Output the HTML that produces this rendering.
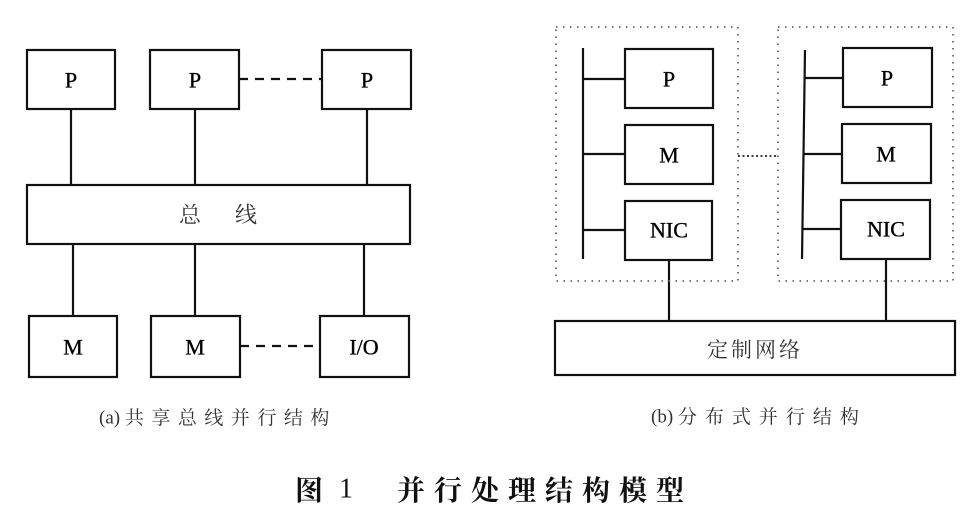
<!DOCTYPE html>
<html><head><meta charset="utf-8"><style>
html,body{margin:0;padding:0;background:#fff;}
svg{display:block;}
.l{font-family:"Liberation Serif","Noto Serif CJK SC",serif;fill:#000;stroke:#000;stroke-width:0.35;}
.c{font-family:"Liberation Serif","Noto Serif CJK SC",serif;fill:#333;}
</style></head><body>
<svg width="969" height="516" viewBox="0 0 969 516" xmlns="http://www.w3.org/2000/svg">
<g fill="none" stroke="#111" stroke-width="2.2">
<!-- left top P boxes -->
<rect x="27" y="50" width="88" height="59"/>
<rect x="150" y="50" width="89" height="59"/>
<rect x="322" y="50" width="89" height="59"/>
<line x1="239" y1="79" x2="322" y2="79" stroke-dasharray="9 7"/>
<line x1="71" y1="109" x2="71" y2="185"/>
<line x1="195" y1="109" x2="195" y2="185"/>
<line x1="367" y1="109" x2="367" y2="185"/>
<rect x="27" y="185" width="383" height="59"/>
<line x1="73" y1="244" x2="73" y2="316"/>
<line x1="195" y1="244" x2="195" y2="316"/>
<line x1="364" y1="244" x2="364" y2="316"/>
<rect x="29" y="316" width="88" height="61"/>
<rect x="151" y="316" width="89" height="61"/>
<rect x="320" y="316" width="89" height="61"/>
<line x1="240" y1="346" x2="320" y2="346" stroke-dasharray="9 7"/>

<!-- right -->
<line x1="583" y1="48" x2="583" y2="259"/>
<rect x="625" y="49" width="88" height="59"/>
<rect x="625" y="125" width="88" height="59"/>
<rect x="625" y="201" width="87" height="59"/>
<line x1="583" y1="79" x2="625" y2="79"/>
<line x1="583" y1="154" x2="625" y2="154"/>
<line x1="583" y1="230" x2="625" y2="230"/>

<line x1="805" y1="50" x2="802" y2="259"/>
<rect x="843" y="48" width="89" height="59"/>
<rect x="842" y="124" width="89" height="59"/>
<rect x="841" y="200" width="89" height="59"/>
<line x1="804" y1="78" x2="843" y2="78"/>
<line x1="803" y1="154" x2="842" y2="154"/>
<line x1="803" y1="229" x2="841" y2="229"/>

<line x1="669" y1="260" x2="669" y2="321"/>
<line x1="886" y1="259" x2="886" y2="321"/>
<rect x="555" y="321" width="400" height="54"/>
</g>
<g fill="none" stroke="#666" stroke-width="1.8" stroke-dasharray="1.5 5.5">
<rect x="556" y="27" width="182" height="254"/>
<rect x="778" y="27" width="175" height="254"/>
<line x1="738" y1="156" x2="778" y2="156" stroke="#222" stroke-dasharray="2 2.5"/>
</g>

<g class="l" font-size="22" text-anchor="middle" dominant-baseline="central">
<text x="71" y="80">P</text>
<text x="195" y="80">P</text>
<text x="367" y="80">P</text>
<text x="73" y="347">M</text>
<text x="195" y="347">M</text>
<text x="364" y="347">I/O</text>
<text x="669" y="79">P</text>
<text x="669" y="155">M</text>
<text x="669" y="230">NIC</text>
<text x="887" y="78">P</text>
<text x="886" y="154">M</text>
<text x="886" y="229">NIC</text>
</g>
<g class="c" dominant-baseline="central">
<text x="179" y="215" font-size="22">总</text>
<text x="235" y="215" font-size="22">线</text>
<text x="707" y="350" font-size="21" letter-spacing="3">定制网络</text>
<text x="99" y="418" font-size="19">(a) <tspan letter-spacing="7.5">共享总线并行结构</tspan></text>
<text x="651" y="417" font-size="19">(b) <tspan letter-spacing="8">分布式并行结构</tspan></text>
</g>
<g font-family="'Noto Serif CJK SC',serif" font-size="28" font-weight="bold" fill="#111" dominant-baseline="central">
<text x="295" y="489">图</text>
<text x="339" y="489" font-family="'Liberation Serif',serif" font-weight="normal">1</text>
<text x="397" y="489" letter-spacing="9">并行处理结构模型</text>
</g>
</svg>
</body></html>
